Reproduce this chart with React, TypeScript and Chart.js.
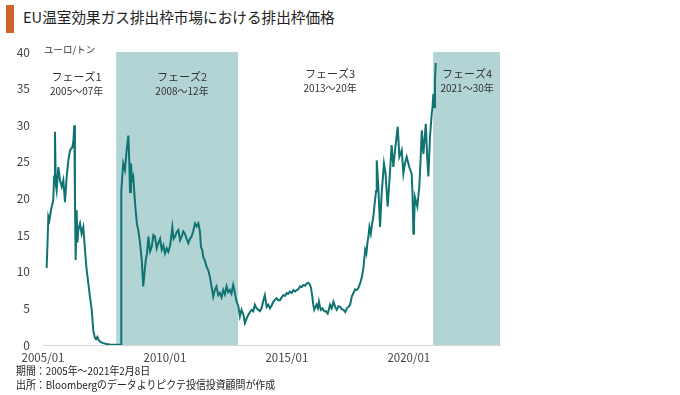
import React, { useEffect, useRef } from "react";
import { Chart, registerables } from "chart.js";

Chart.register(...registerables);

// ---- data ----
const dates: string[] = [
  "2005-02-25","2005-03-08","2005-03-20","2005-04-05","2005-05-01","2005-06-03","2005-06-15","2005-06-28","2005-07-10","2005-07-23",
  "2005-08-18","2005-09-12","2005-10-08","2005-11-01","2005-11-26","2005-12-21","2006-01-15","2006-02-10","2006-03-15","2006-04-01",
  "2006-04-13","2006-04-23","2006-05-03","2006-05-18","2006-05-30","2006-06-13","2006-07-08","2006-07-31","2006-08-26","2006-09-21",
  "2006-10-13","2006-11-10","2006-12-05","2007-01-01","2007-01-23","2007-02-17","2007-03-03","2007-03-24","2007-04-11","2007-05-03",
  "2007-06-18","2007-08-11","2007-10-01","2007-12-14","2008-02-28","2008-03-14",
  "2008-03-17","2008-03-28","2008-04-16","2008-05-11","2008-06-06","2008-07-01","2008-07-15","2008-07-26","2008-08-10","2008-08-25",
  "2008-09-13","2008-10-01","2008-10-19","2008-11-08","2008-11-28","2008-12-24","2009-01-19","2009-02-11","2009-03-01","2009-03-18",
  "2009-04-07","2009-04-27","2009-05-22","2009-06-17","2009-07-10","2009-08-04","2009-08-30","2009-09-24","2009-10-19","2009-11-14",
  "2009-12-08","2010-01-02","2010-01-27","2010-02-21","2010-03-17","2010-04-21","2010-05-09","2010-05-31","2010-06-25","2010-07-20",
  "2010-08-14","2010-09-08","2010-10-02","2010-10-27","2010-11-21","2010-12-16","2011-01-10","2011-02-04","2011-02-28","2011-03-25",
  "2011-04-19","2011-05-14","2011-06-08","2011-06-23","2011-07-11","2011-07-28","2011-08-22","2011-09-16","2011-10-11","2011-11-05",
  "2011-11-30","2011-12-24","2012-01-18","2012-02-12","2012-03-08","2012-04-02","2012-04-27","2012-05-22","2012-06-16","2012-07-11",
  "2012-08-05","2012-08-30","2012-09-24","2012-10-19","2012-11-06","2012-11-23","2012-12-13","2013-01-03","2013-01-28","2013-02-22",
  "2013-03-18","2013-04-12","2013-05-07","2013-06-01","2013-06-26","2013-07-21","2013-08-15","2013-09-09","2013-10-04","2013-10-29",
  "2013-11-23","2013-12-18","2014-01-12","2014-02-06","2014-03-03","2014-03-28","2014-04-22","2014-05-17","2014-06-11","2014-07-06",
  "2014-07-31","2014-08-25","2014-09-19","2014-10-14","2014-11-08","2014-12-03","2014-12-28","2015-01-22","2015-02-16","2015-03-13",
  "2015-04-07","2015-05-02","2015-05-27","2015-06-21","2015-07-16","2015-08-10","2015-09-04","2015-09-29","2015-10-24","2015-11-18",
  "2015-12-13","2015-12-28","2016-01-17","2016-02-01","2016-02-15","2016-03-05","2016-03-20","2016-04-10","2016-04-25","2016-05-10",
  "2016-05-25","2016-06-17","2016-07-14","2016-08-09","2016-09-04","2016-09-24","2016-10-08","2016-11-03","2016-11-29","2016-12-24",
  "2017-01-18","2017-02-12","2017-03-09","2017-04-03","2017-04-28","2017-05-23","2017-06-17","2017-07-11","2017-08-05","2017-08-30",
  "2017-09-24","2017-10-19","2017-11-13","2017-12-08","2018-01-02","2018-01-27","2018-02-21","2018-03-18","2018-04-05","2018-04-20",
  "2018-05-05","2018-05-20","2018-06-10","2018-06-29","2018-07-18","2018-08-13","2018-08-28","2018-09-08","2018-10-01","2018-10-27",
  "2018-11-21","2018-12-25","2019-01-17","2019-02-19","2019-03-26","2019-04-18","2019-05-13","2019-06-07","2019-07-18","2019-08-12",
  "2019-09-17","2019-10-11","2019-11-05","2019-11-30","2020-01-08","2020-02-13","2020-02-25","2020-03-09","2020-03-18","2020-04-01",
  "2020-05-07","2020-06-06","2020-06-24","2020-07-13","2020-08-07","2020-09-12","2020-10-01","2020-10-20","2020-11-14","2020-12-10",
  "2020-12-22","2021-01-04","2021-01-15","2021-01-28","2021-02-08",
];

const prices: number[] = [
  10.5, 14, 17.5, 17, 18.5, 19.8, 23, 29.1, 22, 21.1,
  24.3, 22.5, 21.6, 22.5, 19.5, 23, 25.2, 26.6, 27, 28,
  30, 20, 11.6, 18.4, 14, 15.7, 16.6, 15.2, 16.1, 13,
  10.5, 8.4, 6.5, 4.8, 2, 1, 0.8, 1.1, 0.7, 0.45,
  0.25, 0.15, 0.08, 0.03, 0.02, 0.02,
  21, 22.5, 24.8, 23.9, 26.6, 28.6, 25, 20.9, 24.8, 22.5,
  23, 20.5, 18.4, 16.5, 15.7, 13.9, 11.6, 8, 10, 11.6,
  12.5, 14.8, 12.8, 13.4, 15, 14.8, 13.2, 13.9, 14.5, 13,
  13.6, 12.5, 13.2, 12.7, 13.5, 16.1, 14.5, 14.8, 15.4, 15.7,
  14.3, 14.8, 15.5, 15.2, 14.5, 13.9, 14.5, 14.8, 15.5, 16.6,
  16.2, 16.6, 15.5, 13.4, 13, 12, 11.5, 10.7, 10.2, 9.3,
  8, 6.6, 7.5, 8, 6.8, 7.1, 6.5, 7.5, 6.9, 8,
  7.2, 7.5, 7, 8.2, 7.5, 6.6, 5.8, 5.4, 3.9, 4.8,
  4.2, 3, 3.6, 4.1, 4.5, 4.8, 4.6, 5.5, 5.0, 4.8,
  4.6, 5, 6, 6.8, 5.2, 5.5, 5, 5.4, 5.9, 6.2,
  6.4, 6.1, 6.1, 6.5, 6.8, 6.7, 7.1, 7, 7.3, 7.1,
  7.5, 7.3, 7.5, 7.6, 8, 7.9, 8.2, 8.1, 8.4, 8.5,
  8.2, 7.8, 6.6, 5.5, 4.8, 5.2, 5.5, 5, 5.9, 5.2,
  4.8, 5, 4.6, 4.6, 4.3, 4.9, 5.5, 5.0, 5.9, 5.2,
  4.8, 5.3, 5.2, 4.9, 4.8, 4.5, 5, 5.2, 5.5, 6.6,
  7.1, 7.6, 7.5, 7.8, 8.4, 9.2, 10.5, 13, 12.5, 13.9,
  14.8, 16.1, 15.2, 16.5, 17.5, 19.8, 21, 25.2, 21.6, 16.1,
  20.7, 24.8, 23.5, 18.9, 23.9, 27.3, 24.3, 26.5, 29.8, 25.7,
  26.6, 23.4, 24.8, 25.7, 24.3, 23.4, 21, 15.2, 16.5, 20.2,
  18.9, 21.6, 25, 29.3, 26.1, 30.2, 26, 23, 28.4, 31.6,
  32.5, 34.3, 32.5, 36, 38.5,
];

const xTickValues: number[] = [2005, 2010, 2015, 2020];
const xTickLabels: string[] = ["2005/01", "2010/01", "2015/01", "2020/01"];
const yTickValues: number[] = [0, 5, 10, 15, 20, 25, 30, 35, 40];

const phaseNames: string[] = ["フェーズ1", "フェーズ2", "フェーズ3", "フェーズ4"];
const phaseYears: string[] = ["2005～07年", "2008～12年", "2013～20年", "2021～30年"];
const phaseLabelX: number[] = [2006.38, 2010.7, 2016.77, 2022.39];
const phaseLabelY: number[] = [36.56, 36.56, 36.97, 36.97];
const phaseYearY: number[] = [34.65, 34.65, 35.06, 35.06];
const shadedStart: number[] = [2008, 2021];
const shadedEnd: number[] = [2013, 2023.74];

const X_MIN = 2005;
const X_MAX = 2023.74;
const UNIT = "ユーロ/トン";

function toYear(d: string): number {
  const [y, m, day] = d.split("-").map(Number);
  return y + (m - 1) / 12 + (day - 1) / 365;
}

const FONT = "'Noto Sans CJK JP', 'Noto Sans', sans-serif";

export default function App() {
  const ref = useRef<HTMLCanvasElement | null>(null);

  useEffect(() => {
    if (!ref.current) return;
    const points = dates.map((d, i) => ({ x: toYear(d), y: prices[i] }));

    const bgPlugin = {
      id: "phaseBands",
      beforeDatasetsDraw(chart: any) {
        const { ctx, chartArea, scales } = chart;
        const xs = scales.x;
        const ys = scales.y;
        ctx.save();
        ctx.fillStyle = "#b3d4d5";
        shadedStart.forEach((s, i) => {
          const x0 = xs.getPixelForValue(s);
          const x1 = xs.getPixelForValue(shadedEnd[i]);
          const top = ys.getPixelForValue(40);
          ctx.fillRect(x0, top, x1 - x0, chartArea.bottom - top);
        });
        ctx.restore();
      },
      afterDraw(chart: any) {
        const { ctx, scales, chartArea } = chart;
        const xs = scales.x;
        const ys = scales.y;
        ctx.save();
        ctx.fillStyle = "#333";
        ctx.textBaseline = "middle";
        ctx.textAlign = "center";
        phaseNames.forEach((n, i) => {
          const x = xs.getPixelForValue(phaseLabelX[i]);
          ctx.font = `11px ${FONT}`;
          ctx.fillText(n, x, ys.getPixelForValue(phaseLabelY[i]));
          ctx.font = `10px ${FONT}`;
          ctx.fillText(phaseYears[i], x, ys.getPixelForValue(phaseYearY[i]));
        });
        ctx.textAlign = "left";
        ctx.font = `9.5px ${FONT}`;
        ctx.fillText(UNIT, chartArea.left + 1, ys.getPixelForValue(40.3));
        ctx.restore();
      },
    };

    const chart = new Chart(ref.current, {
      type: "line",
      data: {
        datasets: [
          {
            data: points,
            borderColor: "#0f7372",
            borderWidth: 2,
            pointRadius: 0,
            tension: 0,
            fill: false,
          },
        ],
      },
      options: {
        responsive: false,
        animation: false,
        parsing: false as any,
        layout: { padding: { top: 52, right: 180, bottom: 30, left: 0 } },
        plugins: { legend: { display: false }, tooltip: { enabled: false } },
        scales: {
          x: {
            type: "linear",
            min: X_MIN,
            max: X_MAX,
            afterBuildTicks(scale: any) {
              scale.ticks = xTickValues.map((v) => ({ value: v }));
            },
            afterFit(scale: any) {
              scale.height = 20;
            },
            grid: { display: false, drawTicks: false },
            border: { display: true, color: "#d6d6d6", width: 1 },
            ticks: {
              padding: 6,
              maxRotation: 0,
              autoSkip: false,
              color: "#444",
              font: { family: FONT, size: 11.5 },
              callback: (v: any) => {
                const i = xTickValues.indexOf(Number(v));
                return i >= 0 ? xTickLabels[i] : "";
              },
            },
          },
          y: {
            min: 0,
            max: 40,
            afterBuildTicks(scale: any) {
              scale.ticks = yTickValues.map((v) => ({ value: v }));
            },
            afterFit(scale: any) {
              scale.width = 43;
            },
            grid: { display: false, drawTicks: false },
            border: { display: false },
            ticks: {
              padding: 13,
              color: "#444",
              font: { family: FONT, size: 12 },
            },
          },
        },
      },
      plugins: [bgPlugin],
    });
    return () => chart.destroy();
  }, []);

  return (
    <div style={{ position: "absolute", left: 0, top: 0, width: 680, height: 395, background: "#fff", fontFamily: FONT }}>
      <div style={{ position: "absolute", left: 6, top: 5, width: 8, height: 28, background: "#d2622b" }} />
      <div style={{ position: "absolute", left: 23, top: 5, fontSize: 15, lineHeight: "24px", color: "#222", whiteSpace: "nowrap", transform: "scaleX(0.975)", transformOrigin: "left center" }}>
        EU温室効果ガス排出枠市場における排出枠価格
      </div>
      <canvas ref={ref} width={680} height={395} style={{ position: "absolute", left: 0, top: 0 }} />
      <div style={{ position: "absolute", left: 16, top: 364, fontSize: 11, lineHeight: "13.5px", color: "#222", whiteSpace: "nowrap", transform: "scaleX(0.9)", transformOrigin: "left top" }}>
        <div>期間：2005年～2021年2月8日</div>
        <div>出所：Bloombergのデータよりピクテ投信投資顧問が作成</div>
      </div>
    </div>
  );
}
